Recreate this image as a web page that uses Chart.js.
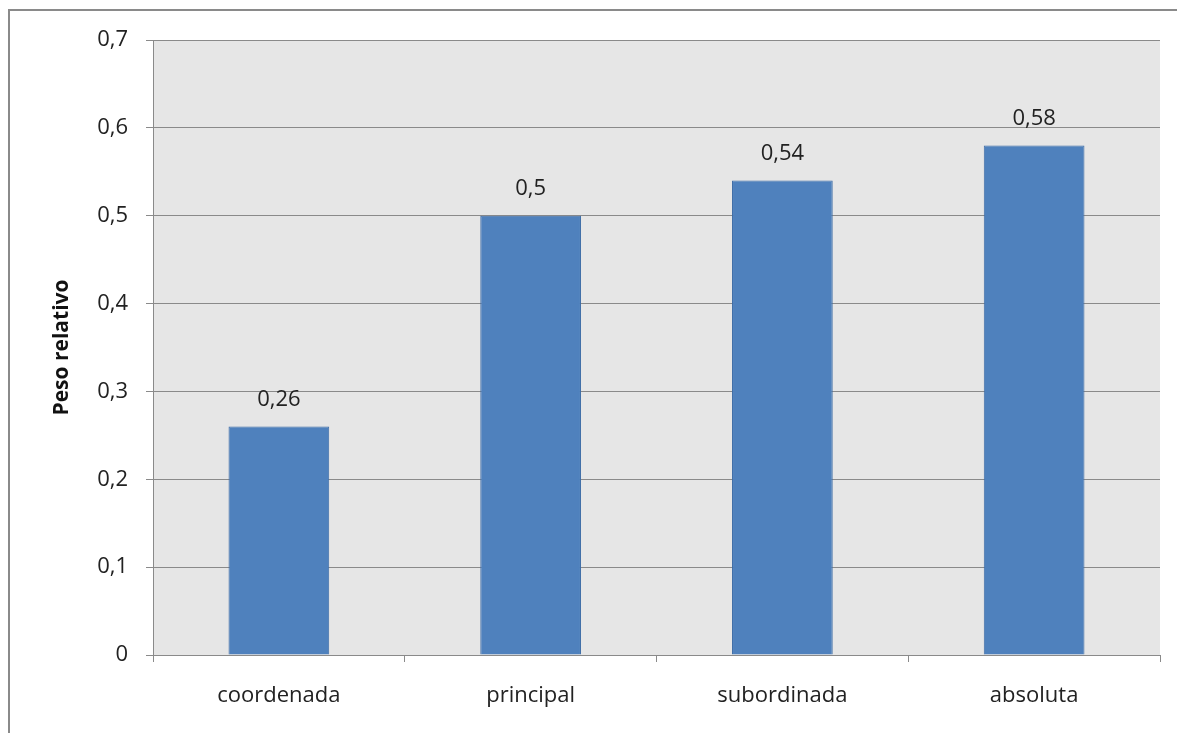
<!DOCTYPE html>
<html>
<head>
<meta charset="utf-8">
<script src="https://cdn.jsdelivr.net/npm/chart.js@4/dist/chart.umd.min.js"></script>
<style>
  html, body { margin: 0; padding: 0; background: #ffffff; }
  #wrap { width: 1177px; height: 733px; position: relative; }
</style>
</head>
<body>
<div id="wrap"><canvas id="c" width="1177" height="733"></canvas></div>
<script>
// Categories and values
const categories = ['coordenada', 'principal', 'subordinada', 'absoluta'];
const pesoRelativo = [0.26, 0.5, 0.54, 0.58];
const yTicks = [0, 0.1, 0.2, 0.3, 0.4, 0.5, 0.6, 0.7];

const FONT = '"Open Sans", "Noto Sans", sans-serif';
const fmt = v => String(Math.round(v * 100) / 100).replace('.', ',');

// Frame and plot background
const framePlugin = {
  id: 'frame',
  beforeDraw(chart) {
    const ctx = chart.ctx;
    const a = chart.chartArea;
    ctx.save();
    ctx.fillStyle = '#ffffff';
    ctx.fillRect(0, 0, chart.width, chart.height);
    ctx.fillStyle = '#e6e6e6';
    ctx.fillRect(a.left, a.top, a.right - a.left, a.bottom - a.top);
    ctx.strokeStyle = '#8a8a8a';
    ctx.lineWidth = 2;
    ctx.beginPath();
    ctx.moveTo(9, chart.height);
    ctx.lineTo(9, 10);
    ctx.lineTo(chart.width, 10);
    ctx.stroke();
    ctx.restore();
  }
};

// Value labels above each bar
const valueLabels = {
  id: 'valueLabels',
  afterDatasetsDraw(chart) {
    const ctx = chart.ctx;
    const meta = chart.getDatasetMeta(0);
    ctx.save();
    ctx.font = '22px ' + FONT;
    ctx.fillStyle = '#222222';
    ctx.textAlign = 'center';
    ctx.textBaseline = 'middle';
    meta.data.forEach((bar, i) => {
      ctx.fillText(fmt(pesoRelativo[i]), bar.x, bar.y - 27);
    });
    ctx.restore();
  }
};

new Chart(document.getElementById('c'), {
  type: 'bar',
  data: {
    labels: categories,
    datasets: [{
      data: pesoRelativo,
      backgroundColor: '#4f81bd',
      borderColor: '#3d6ca6',
      borderWidth: 1,
      categoryPercentage: 1,
      barPercentage: 0.4
    }]
  },
  options: {
    responsive: false,
    animation: false,
    layout: { padding: { left: 0, top: 40, right: 17, bottom: 0 } },
    plugins: { legend: { display: false }, tooltip: { enabled: false } },
    scales: {
      x: {
        grid: {
          offset: true,
          drawOnChartArea: false,
          drawTicks: true,
          tickLength: 7,
          color: '#8a8a8a'
        },
        border: { color: '#8a8a8a', width: 1 },
        ticks: {
          font: { family: FONT, size: 22 },
          color: '#222222',
          padding: 21
        },
        afterFit(s) { s.height = 78; }
      },
      y: {
        min: 0,
        max: 0.7,
        afterBuildTicks(s) { s.ticks = yTicks.map(v => ({ value: v })); },
        grid: {
          color: '#8a8a8a',
          tickLength: 7
        },
        border: { color: '#8a8a8a', width: 1 },
        ticks: {
          font: { family: FONT, size: 22 },
          color: '#222222',
          padding: 18,
          callback: v => fmt(v)
        },
        title: {
          display: true,
          text: 'Peso relativo',
          font: { family: FONT, size: 21, weight: 'bold' },
          color: '#111111',
          padding: { top: 49, bottom: 0 }
        },
        afterFit(s) { s.width = 153; }
      }
    }
  },
  plugins: [framePlugin, valueLabels]
});
</script>
</body>
</html>
